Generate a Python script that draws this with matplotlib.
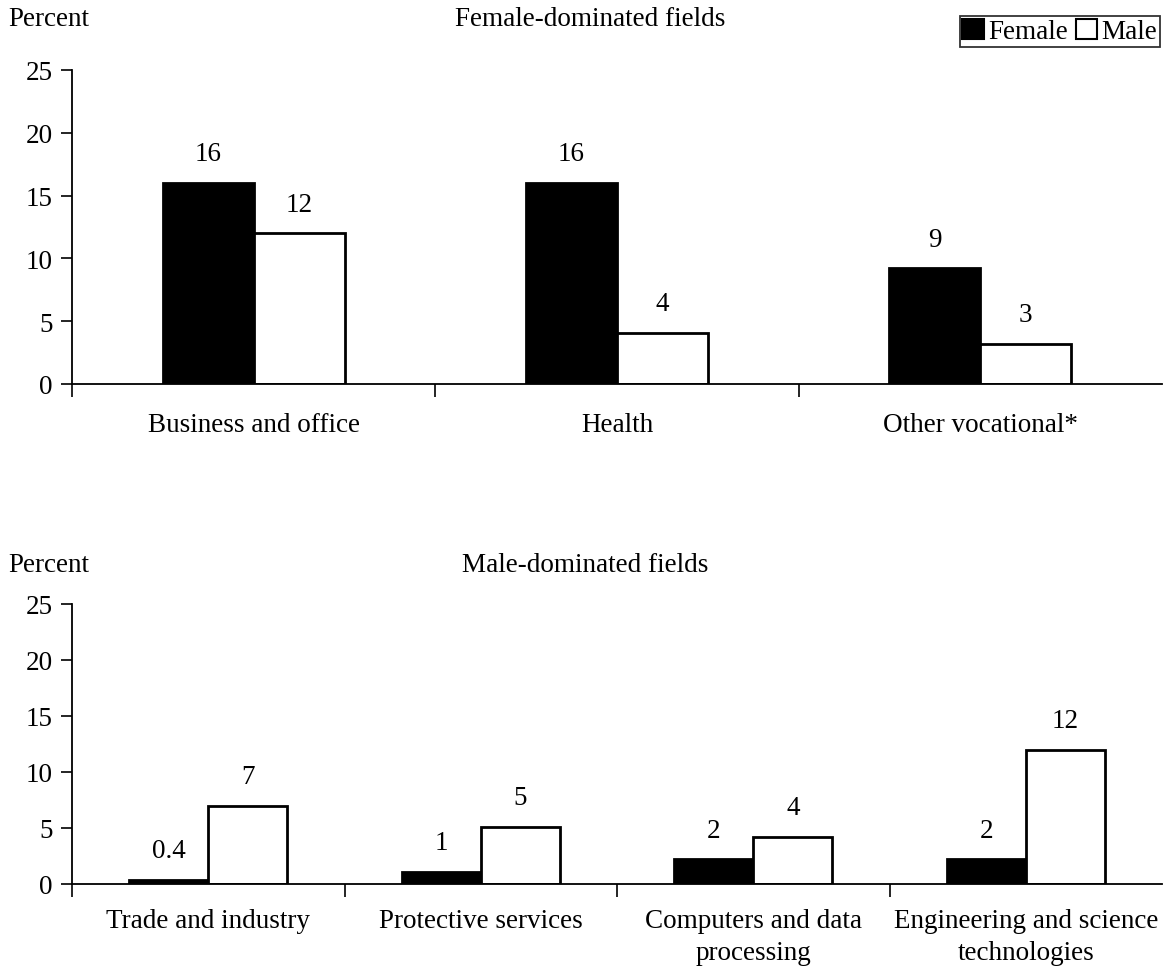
import numpy as np
import matplotlib
matplotlib.use("Agg")
import matplotlib.pyplot as plt
from matplotlib.patches import Patch

plt.rcParams['font.family'] = ['Liberation Serif', 'DejaVu Serif']

# 数据
top_cats = ["Business and office", "Health", "Other vocational*"]
top_female = [16, 16, 9.2]
top_male = [12, 4.1, 3.2]
top_female_lbl = ["16", "16", "9"]
top_male_lbl = ["12", "4", "3"]

bot_cats = ["Trade and industry", "Protective services",
            "Computers and data\nprocessing", "Engineering and science\ntechnologies"]
bot_female = [0.4, 1.1, 2.2, 2.2]
bot_male = [7, 5.1, 4.2, 12]
bot_female_lbl = ["0.4", "1", "2", "2"]
bot_male_lbl = ["7", "5", "4", "12"]

yticks = [0, 5, 10, 15, 20, 25]
FS = 19.5


def draw_panel(ax, cats, female, male, flbl, mlbl, width, pad):
    n = len(cats)
    x = np.arange(n)
    b1 = ax.bar(x - width / 2, female, width, color="black", edgecolor="black", linewidth=2)
    b2 = ax.bar(x + width / 2, male, width, color="white", edgecolor="black", linewidth=2)
    for bars, lbls in ((b1, flbl), (b2, mlbl)):
        for r, t in zip(bars, lbls):
            ax.annotate(t, (r.get_x() + r.get_width() / 2, r.get_height()),
                        xytext=(0, 12), textcoords="offset points",
                        ha="center", va="bottom", fontsize=FS)
    ax.set_xlim(-0.5, n - 0.5)
    ax.set_ylim(0, 25)
    ax.set_yticks(yticks)
    ax.set_xticks(x)
    ax.set_xticklabels(cats, fontsize=FS, linespacing=1.4)
    ax.set_xticks(np.arange(n) - 0.5, minor=True)
    ax.tick_params(axis="x", which="major", length=0, pad=pad)
    ax.tick_params(axis="x", which="minor", length=9, width=1.2, direction="out")
    ax.tick_params(axis="y", labelsize=FS, length=8, width=1.2, pad=6)
    for s in ("top", "right"):
        ax.spines[s].set_visible(False)
    for s in ("left", "bottom"):
        ax.spines[s].set_linewidth(1.3)


fig = plt.figure(figsize=(11.64, 9.7), dpi=100)
W, H = 1164, 970

ax1 = fig.add_axes([72 / W, 1 - 385 / H, 1090 / W, 314 / H])
draw_panel(ax1, top_cats, top_female, top_male, top_female_lbl, top_male_lbl, 0.25, 20)

ax2 = fig.add_axes([72 / W, 1 - 885 / H, 1090 / W, 280 / H])
draw_panel(ax2, bot_cats, bot_female, bot_male, bot_female_lbl, bot_male_lbl, 0.29, 17)

fig.text(8 / W, 1 - 20 / H, "Percent", fontsize=FS, va="center", ha="left")
fig.text(590 / W, 1 - 20 / H, "Female-dominated fields", fontsize=FS, va="center", ha="center")
fig.text(8 / W, 1 - 566 / H, "Percent", fontsize=FS, va="center", ha="left")
fig.text(585 / W, 1 - 566 / H, "Male-dominated fields", fontsize=FS, va="center", ha="center")

handles = [Patch(facecolor="black", edgecolor="black", linewidth=1.5, label="Female"),
           Patch(facecolor="white", edgecolor="black", linewidth=1.5, label="Male")]
leg = fig.legend(handles=handles, loc="upper right", bbox_to_anchor=(1160 / W, 1 - 17 / H),
                 ncol=2, fontsize=FS, frameon=True, fancybox=False, edgecolor="black",
                 handlelength=0.8, handleheight=0.8, handletextpad=0.15,
                 columnspacing=0.3, borderpad=0.1, borderaxespad=0)
leg.get_frame().set_linewidth(1.3)

fig.savefig("out.png", dpi=100)
